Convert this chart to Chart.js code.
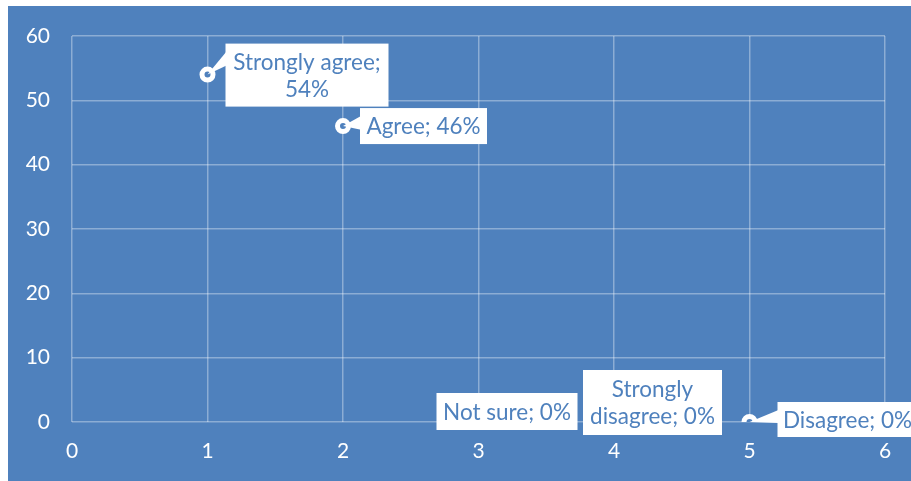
<!DOCTYPE html>
<html>
<head>
<meta charset="utf-8">
<script src="https://cdn.jsdelivr.net/npm/chart.js@4/dist/chart.umd.min.js"></script>
<style>
html,body{margin:0;padding:0;background:#fff;}
#wrap{width:911px;height:481px;position:relative;}
</style>
</head>
<body>
<div id="wrap"><canvas id="c" width="911" height="481"></canvas></div>
<script>
// ---- data ----
const categories = ['Strongly agree', 'Agree', 'Not sure', 'Strongly disagree', 'Disagree'];
const xValues = [1, 2, 3, 4, 5];
const yValues = [54, 46, 0, 0, 0];
const xTicks = [0, 1, 2, 3, 4, 5, 6];
const yTicks = [0, 10, 20, 30, 40, 50, 60];

// ---- styling / label layout (pixels relative to the point) ----
const BG = '#4F81BD';
const FONT = 'Lato, "Open Sans", sans-serif';
const labelLayout = [
  {dx: 18, dy: -31, w: 163, h: 63, breakAfter: ';', pointer: 'left'},
  {dx: 17, dy: -18, w: 127, h: 36, breakAfter: null, pointer: 'left'},
  {dx: -42, dy: -29, w: 141, h: 37, breakAfter: null, pointer: null},
  {dx: -31, dy: -52, w: 139, h: 65, breakAfter: 'Strongly', pointer: null},
  {dx: 28, dy: -20, w: 140, h: 35, breakAfter: null, pointer: 'left'}
];

const points = xValues.map((x, i) => ({x: x, y: yValues[i]}));

const bgPlugin = {
  id: 'bg',
  beforeDraw(chart) {
    const ctx = chart.ctx;
    ctx.save();
    ctx.fillStyle = BG;
    ctx.fillRect(8, 6, chart.width - 8, chart.height - 6);
    ctx.restore();
  }
};

const labelPlugin = {
  id: 'calloutLabels',
  afterDatasetsDraw(chart) {
    const ctx = chart.ctx;
    const meta = chart.getDatasetMeta(0);
    ctx.save();
    meta.data.forEach((pt, i) => {
      const L = labelLayout[i];
      const px = pt.x, py = pt.y;
      const bx = px + L.dx, by = py + L.dy;
      ctx.fillStyle = '#ffffff';
      if (L.pointer === 'left') {
        const y1 = by + Math.min(8, L.h * 0.25);
        const y2 = by + Math.min(22, L.h * 0.6);
        ctx.beginPath();
        ctx.moveTo(px, py);
        ctx.lineTo(bx + 1, y1);
        ctx.lineTo(bx + 1, y2);
        ctx.closePath();
        ctx.fill();
      }
      ctx.fillRect(bx, by, L.w, L.h);
      const full = categories[i] + '; ' + yValues[i] + '%';
      let lines = [full];
      if (L.breakAfter) {
        const k = full.indexOf(L.breakAfter) + L.breakAfter.length;
        lines = [full.slice(0, k).trim(), full.slice(k).trim()];
      }
      ctx.fillStyle = BG;
      ctx.font = '22.5px ' + FONT;
      ctx.textAlign = 'center';
      ctx.textBaseline = 'middle';
      const lh = 27;
      const cy = by + L.h / 2;
      lines.forEach((t, j) => {
        ctx.fillText(t, bx + L.w / 2, cy + (j - (lines.length - 1) / 2) * lh + 1);
      });
    });
    ctx.restore();
  }
};

new Chart(document.getElementById('c'), {
  type: 'scatter',
  data: {
    datasets: [{
      data: points,
      pointRadius: 5.5,
      pointBorderWidth: 5,
      pointBorderColor: '#ffffff',
      pointBackgroundColor: BG,
      pointHoverRadius: 5.5,
      showLine: false
    }]
  },
  options: {
    responsive: false,
    animation: false,
    events: [],
    layout: {padding: {left: 8, top: 36, right: 26, bottom: 0}},
    plugins: {legend: {display: false}, tooltip: {enabled: false}},
    scales: {
      x: {
        type: 'linear',
        min: 0, max: 6,
        afterBuildTicks(axis) { axis.ticks = xTicks.map(v => ({value: v})); },
        afterFit(axis) { axis.height = 59; },
        grid: {color: 'rgba(255,255,255,0.35)', lineWidth: 1.5, drawTicks: false},
        border: {display: false},
        ticks: {color: '#ffffff', font: {family: FONT, size: 21}, padding: 17, maxRotation: 0}
      },
      y: {
        min: 0, max: 60,
        afterBuildTicks(axis) { axis.ticks = yTicks.map(v => ({value: v})); },
        afterFit(axis) { axis.width = 64; },
        grid: {color: 'rgba(255,255,255,0.35)', lineWidth: 1.5, drawTicks: false},
        border: {display: false},
        ticks: {color: '#ffffff', font: {family: FONT, size: 21}, padding: 22}
      }
    }
  },
  plugins: [bgPlugin, labelPlugin]
});
</script>
</body>
</html>
